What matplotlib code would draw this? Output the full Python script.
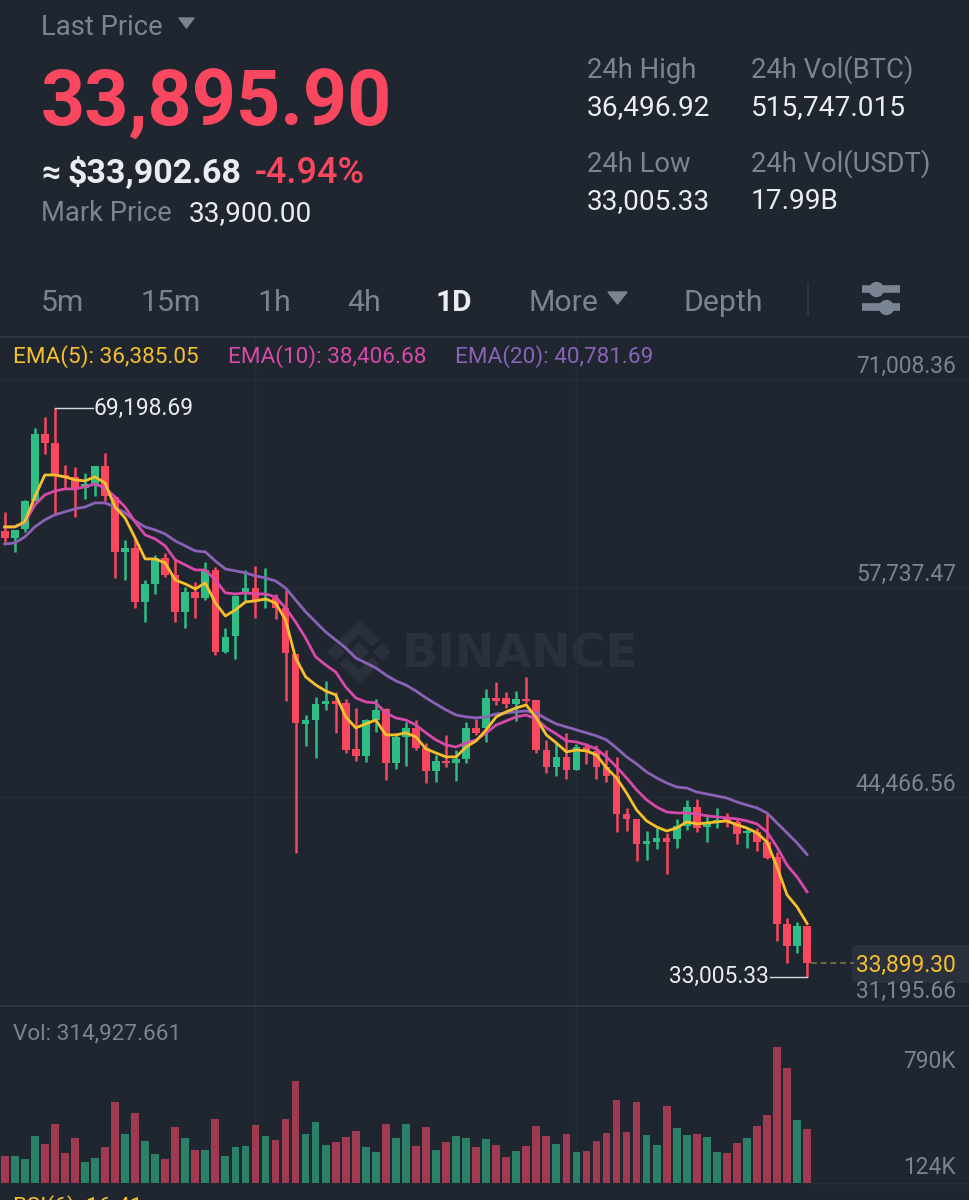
import matplotlib
matplotlib.use("Agg")
import matplotlib.pyplot as plt
from matplotlib.patches import FancyBboxPatch, Polygon

plt.rcParams['font.family'] = ['Roboto', 'DejaVu Sans']

# daily candles, oldest first
open_ = [
    61400, 60950, 61520, 63310, 67580, 67000, 64960, 64840, 64140, 64390,
    65540, 63560, 60060, 60310, 56870, 58020, 59680, 58590, 56240, 57510,
    57130, 58910, 53690, 54710, 57450, 57770, 56940, 57130, 56490, 53560,
    49100, 49350, 50380, 50570, 50440, 47510, 47060, 49350, 50060, 46610,
    48270, 48850, 47570, 46110, 46740, 46610, 46870, 48850, 48850, 50760,
    50760, 50380, 50690, 50630, 47440, 46360, 47000, 46170, 47630, 47380,
    46360, 45790, 43370, 43050, 41460, 41580, 41840, 41770, 42600, 43810,
    42540, 42860, 43110, 42860, 42160, 42220, 41580, 40630, 36360, 34960,
    36230,
]
close = [
    60950, 61460, 63310, 67580, 67000, 64900, 64770, 64140, 64390, 65540,
    63620, 60060, 60310, 56870, 58020, 59680, 58590, 56240, 57510, 57130,
    58910, 53690, 54640, 57260, 57770, 57000, 57130, 56490, 53620, 49160,
    49350, 50380, 50570, 50380, 47440, 47060, 49350, 49990, 46610, 48270,
    48850, 47570, 46110, 46740, 46610, 46870, 48850, 48530, 50760, 50570,
    50380, 50690, 50570, 47440, 46360, 47000, 46170, 47630, 47380, 46360,
    45790, 43370, 43050, 41460, 41650, 41840, 41580, 42600, 43810, 42470,
    42860, 42980, 42860, 42090, 42280, 41580, 40560, 36360, 34960, 36230,
    33899.30,
]
high = [
    62610, 61460, 63370, 67960, 68660, 69198.69, 65600, 65470, 65090, 65540,
    66360, 63620, 60820, 60950, 58270, 59870, 59990, 59550, 57830, 58150,
    59420, 59100, 55220, 57320, 58910, 59170, 59040, 57380, 57640, 53560,
    49670, 50820, 51840, 51140, 50690, 50120, 49420, 50690, 50120, 48530,
    49230, 49350, 47890, 47120, 48400, 47440, 49230, 49420, 51330, 51780,
    51140, 51200, 52100, 50630, 48080, 47890, 48530, 47830, 47890, 47760,
    47440, 47000, 43750, 43050, 42280, 42470, 42160, 43050, 44260, 44320,
    43370, 43750, 43430, 43050, 42470, 42470, 43370, 40950, 36740, 36490,
    36230,
]
low = [
    60700, 60060, 61330, 63310, 66300, 62420, 64140, 62290, 63430, 63620,
    63310, 58400, 58270, 56490, 55600, 57380, 58470, 55600, 55220, 55850,
    57000, 53500, 53620, 53240, 56870, 55850, 56490, 55790, 50570, 40880,
    47700, 46930, 49990, 48530, 47250, 46740, 46680, 48590, 45530, 46230,
    46420, 47440, 45340, 45400, 46360, 45470, 46610, 48400, 47950, 50310,
    50120, 49290, 50440, 47250, 45980, 45790, 45600, 46170, 46550, 45600,
    45400, 42220, 42280, 40370, 40440, 41140, 39540, 41200, 42350, 42220,
    41580, 42470, 42540, 41460, 41200, 41010, 40500, 35280, 33880, 34510,
    33005.33,
]
volume = [
    157.5, 155.6, 142, 272, 229.5, 346, 177, 264.5, 124.5, 146,
    210, 472.6, 288, 410, 245, 171, 142, 325, 264.5, 194.5,
    192.6, 375, 155.6, 212, 214, 336.5, 272, 249, 371.5, 595,
    286, 354, 224, 239, 270, 301.5, 210, 183, 346, 264.5,
    342, 214, 325, 190.6, 241, 272, 260.6, 208, 255, 220,
    150, 185, 216, 334.5, 272, 229.5, 286, 179, 187, 245,
    292, 484, 298, 471, 280, 222, 451, 321, 278, 288,
    270, 183, 177, 231, 264.5, 332.6, 397, 790, 673, 368,
    314.93,
]
ema5 = [
    61650, 61650, 61970, 63560, 64960, 64960, 64840, 64650, 64580, 64840,
    64450, 62920, 62220, 60950, 59610, 59610, 59360, 58270, 58020, 57700,
    58080, 56810, 55980, 56360, 56870, 56940, 57060, 56810, 55730, 53310,
    52100, 51590, 51200, 50950, 49550, 48850, 49100, 49350, 48400, 48400,
    48530, 48270, 47510, 47250, 47000, 47000, 47630, 48020, 48720, 49550,
    49870, 50120, 50310, 49480, 48400, 47890, 47320, 47440, 47380, 47120,
    46300, 45660, 44700, 43620, 42920, 42540, 42280, 42470, 42860, 42730,
    42790, 42860, 42920, 42670, 42470, 42160, 41580, 39990, 38210, 37440,
    36385.05,
]
ema10 = [
    61650, 61650, 61910, 63050, 63690, 63940, 64070, 64070, 64200, 64390,
    64140, 63560, 62920, 61970, 61140, 60890, 60440, 59550, 59230, 58910,
    58910, 58270, 57450, 57380, 57450, 57380, 57380, 57190, 56490, 55600,
    54580, 53370, 52860, 52410, 51450, 50760, 50500, 50440, 49800, 49480,
    49350, 49030, 48530, 48080, 47760, 47630, 47890, 48080, 48530, 49030,
    49290, 49550, 49670, 49420, 48850, 48460, 48020, 47950, 47760, 47510,
    47000, 46360, 45660, 44900, 44260, 43810, 43490, 43430, 43430, 43370,
    43240, 43180, 43110, 43050, 42920, 42730, 42220, 41260, 40110, 39350,
    38406.68,
]
ema20 = [
    60560, 60630, 61010, 61650, 62100, 62420, 62610, 62800, 62920, 63180,
    63180, 62920, 62540, 62030, 61650, 61460, 61200, 60760, 60440, 60120,
    60060, 59480, 58970, 58850, 58720, 58530, 58400, 58210, 57760, 57000,
    56240, 55600, 54960, 54450, 53940, 53300, 52990, 52670, 52220, 51840,
    51580, 51200, 50760, 50370, 49990, 49670, 49550, 49480, 49550, 49740,
    49800, 49870, 49930, 49800, 49420, 49100, 48910, 48720, 48530, 48340,
    48080, 47570, 47000, 46550, 46040, 45660, 45340, 45080, 45020, 44760,
    44640, 44510, 44380, 44130, 43930, 43750, 43430, 42790, 42160, 41520,
    40781.69,
]
price_ticks = [71008.36, 57737.47, 44466.56, 31195.66]
price_tick_labels = ["71,008.36", "57,737.47", "44,466.56", "31,195.66"]
grid_days = [25, 57]
last_price = 33899.30

BG = '#1f2630'
RED = '#f8475f'
GREEN = '#2ebd85'
VOL_RED = '#a03a50'
VOL_GREEN = '#2b8068'
GREY = '#7b8492'
WHITE = '#e9ecf0'
GRID = '#262d38'
SEP = '#333a45'
YELLOW = '#f5c02c'
PINK = '#d84aa9'
PURPLE = '#8a62b6'

W, H = 970, 1200
fig = plt.figure(figsize=(W / 100, H / 100), dpi=100, facecolor=BG)


def pane(top, bottom):
    return fig.add_axes([0, 1 - bottom / H, 1, (bottom - top) / H], facecolor='none')


def pixel_axes(zorder, facecolor):
    a = fig.add_axes([0, 0, 1, 1], facecolor=facecolor, zorder=zorder)
    a.set_xlim(0, W)
    a.set_ylim(H, 0)
    a.axis('off')
    return a


# app chrome sits behind the marks, its text in front of them
page = pixel_axes(0, BG)
front = pixel_axes(5, 'none')


def label(x, y, s, color=GREY, size=19.7, weight='normal', ha='left', va='baseline', target=None):
    (target or front).text(x, y, s, color=color, fontsize=size, fontweight=weight, ha=ha, va=va)


# header
label(41, 35, "Last Price")
page.add_patch(Polygon([[179, 18], [194, 18], [186.5, 28]], color=GREY, joinstyle='round'))
label(41, 126, "33,895.90", RED, 55.6, 'bold')
label(41, 183, "≈", WHITE, 24, 'bold')
label(68, 183, "$33,902.68", WHITE, 24.5, 'bold')
label(255, 183, "-4.94%", RED, 26, 'medium')
label(41, 221, "Mark Price")
label(189, 221, "33,900.00", WHITE, 20.2)

label(587, 78, "24h High")
label(587, 115, "36,496.92", WHITE, 20.2)
label(587, 172, "24h Low")
label(587, 209, "33,005.33", WHITE, 20.2)
label(751, 78, "24h Vol(BTC)")
label(751, 115, "515,747.015", WHITE, 20.2)
label(751, 172, "24h Vol(USDT)")
label(751, 209, "17.99B", WHITE, 20.2)

# interval tabs
for x, s in [(41, "5m"), (141, "15m"), (258, "1h"), (347, "4h"), (529, "More"), (684, "Depth")]:
    label(x, 311, s, GREY, 21.8)
label(436, 311, "1D", WHITE, 21.5, 'bold')
page.add_patch(Polygon([[608, 292], [627, 292], [617.5, 304]], color=GREY))
page.plot([808, 808], [283, 315], color=SEP, lw=1.2)
for y, cx in [(289, 876), (307, 886)]:
    page.plot([862, 900], [y, y], color=GREY, lw=5.5, solid_capstyle='butt')
    page.plot([cx], [y], 'o', color=GREY, ms=11, mew=0)

# separators
for y in [337, 1006]:
    page.plot([0, W], [y, y], color=SEP, lw=1.2)

# watermark
wm = '#2b313c'
page.text(402, 668, "BINANCE", color=wm, fontsize=34, fontweight='bold', family='DejaVu Sans')
cx, cy = 359, 652
page.add_patch(Polygon([[cx, cy - 9], [cx + 9, cy], [cx, cy + 9], [cx - 9, cy]], color=wm))
page.add_patch(Polygon([[cx - 31, cy], [cx - 23, cy - 8], [cx - 15, cy], [cx - 23, cy + 8]], color=wm))
page.add_patch(Polygon([[cx + 31, cy], [cx + 23, cy - 8], [cx + 15, cy], [cx + 23, cy + 8]], color=wm))
page.add_patch(Polygon([[cx, cy - 31], [cx + 19, cy - 12], [cx + 13, cy - 6], [cx, cy - 19],
                        [cx - 13, cy - 6], [cx - 19, cy - 12]], color=wm))
page.add_patch(Polygon([[cx, cy + 31], [cx + 19, cy + 12], [cx + 13, cy + 6], [cx, cy + 19],
                        [cx - 13, cy + 6], [cx - 19, cy + 12]], color=wm))

# price pane
ax = pane(338, 1005)
ax.set_zorder(2)
scale = (price_ticks[0] - price_ticks[3]) / (1005 - 380)
ax.set_ylim(price_ticks[3], price_ticks[3] + (1005 - 338) * scale)
xlim = (-4.7 / 10.03, (W - 4.7) / 10.03)
ax.set_xlim(xlim)

days = list(range(len(open_)))
colors = [GREEN if c > o else RED for o, c in zip(open_, close)]
for p in price_ticks[:3]:
    ax.axhline(p, color=GRID, lw=1, zorder=0)
for d in grid_days:
    ax.axvline(d, color=GRID, lw=1, zorder=0)
ax.vlines(days, low, high, colors=colors, lw=1.8, zorder=2)
ax.bar(days, [abs(c - o) for o, c in zip(open_, close)], bottom=[min(o, c) for o, c in zip(open_, close)],
       width=0.76, color=colors, zorder=2)
ax.plot(days, ema20, color=PURPLE, lw=2, zorder=3)
ax.plot(days, ema10, color=PINK, lw=2, zorder=4)
ax.plot(days, ema5, color=YELLOW, lw=2, zorder=5)

# high / low callouts
hi = high.index(max(high))
lo = low.index(min(low))
ax.plot([hi, hi + 3.85], [high[hi], high[hi]], color='#d5d8dc', lw=1, zorder=6)
ax.text(hi + 3.85, high[hi], "69,198.69", color=WHITE, fontsize=16.4, va='center', ha='left', zorder=6)
ax.plot([lo, lo - 3.7], [low[lo], low[lo]], color='#d5d8dc', lw=1, zorder=6)
ax.text(lo - 3.85, low[lo], "33,005.33", color=WHITE, fontsize=16.4, va='center', ha='right', zorder=6)

# last price marker
ax.plot([days[-1] + 0.4, 84.7], [last_price, last_price], color='#6f6a3c', lw=1.4, ls=(0, (3, 2)), zorder=1)
page.add_patch(FancyBboxPatch((852, 945), 130, 38, boxstyle='round,pad=0,rounding_size=5',
                              facecolor='#2a313c', edgecolor='none', zorder=1))

ax.axis('off')

for y, s in zip([366, 574, 784, 991], price_tick_labels):
    label(956, y, s, GREY, 16.4, ha='right', va='center')
label(956, 965.5, "33,899.30", YELLOW, 16.4, ha='right', va='center')

# legend
label(13, 363, "EMA(5): 36,385.05", YELLOW, 16.2)
label(228, 363, "EMA(10): 38,406.68", PINK, 16.2)
label(455, 363, "EMA(20): 40,781.69", PURPLE, 16.2)

# volume pane
vax = pane(1007, 1183)
vax.set_zorder(2)
vax.set_xlim(xlim)
vax.set_ylim(0, (1183 - 1007) * 5.83)
vol_colors = [VOL_GREEN if c > o else VOL_RED for o, c in zip(open_, close)]
for d in grid_days:
    vax.axvline(d, color=GRID, lw=1, zorder=0)
vax.bar(days, volume, width=0.77, color=vol_colors, zorder=2)
vax.axis('off')
page.plot([812, W], [1183, 1183], color=GRID, lw=1)
label(13, 1034, "Vol: 314,927.661", GREY, 16.2, va='center')
label(956, 1061, "790K", GREY, 16.4, ha='right', va='center')
label(956, 1168, "124K", GREY, 16.4, ha='right', va='center')

# next pane title, cut off by the screenshot edge
label(13, 1213, "RSI(6): 16.41", YELLOW, 16.2)

fig.savefig("out.png", dpi=100, facecolor=BG)
